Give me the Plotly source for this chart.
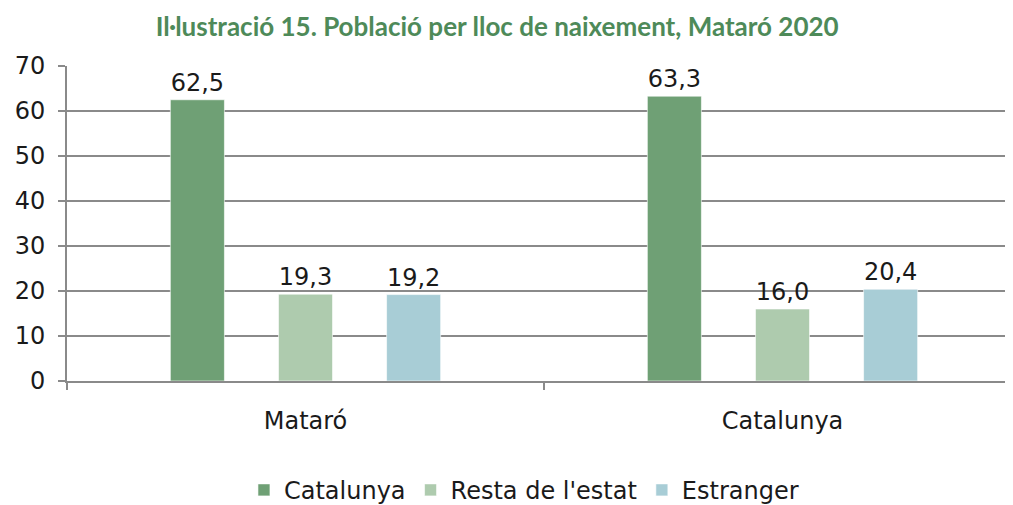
'''
Població per lloc de naixement, Mataró 2020 - grouped bar chart
'''

import plotly.graph_objects as go

categories = ['Mataró', 'Catalunya']
catalunya = [62.5, 63.3]
resta_estat = [19.3, 16.0]
estranger = [19.2, 20.4]
series_names = ['Catalunya', "Resta de l'estat", 'Estranger']
y_ticks = [0, 10, 20, 30, 40, 50, 60, 70]

colors = ['#6fa075', '#aecbae', '#a8cdd6']
font_family = 'DejaVu Sans, sans-serif'


def fmt(v):
    return f'{v:.1f}'.replace('.', ',')


fig = go.Figure()
for name, vals, col in zip(series_names, [catalunya, resta_estat, estranger], colors):
    fig.add_trace(go.Bar(
        x=categories,
        y=vals,
        name=name,
        marker=dict(color=col, line=dict(color='rgba(255,255,255,0.6)', width=1)),
        text=[fmt(v) for v in vals],
        textposition='outside',
        textfont=dict(size=24, color='#1a1a1a', family=font_family),
        cliponaxis=False,
    ))

# the page body adds an 8px offset, margins are compensated for it
fig.update_layout(
    width=1013,
    height=505,
    margin=dict(l=59, r=0, t=58, b=132, autoexpand=False),
    paper_bgcolor='white',
    plot_bgcolor='white',
    barmode='group',
    bargap=0.32,
    bargroupgap=0.5,
    title=dict(
        text='<b>Il·lustració 15. Població per lloc de naixement, Mataró 2020</b>',
        x=0.483, xanchor='center', y=0.962, yanchor='middle',
        font=dict(family='Lato, Open Sans, sans-serif', size=26, color='#4e8a59'),
    ),
    font=dict(family=font_family, size=24, color='#1a1a1a'),
    legend=dict(
        orientation='h', x=0.479, xanchor='center',
        yref='container', y=0.045, yanchor='middle',
        font=dict(size=24, family=font_family),
        itemwidth=30, traceorder='normal',
    ),
    showlegend=True,
)

fig.update_yaxes(
    range=[0, 70],
    tickvals=y_ticks,
    automargin=False,
    showgrid=True,
    gridcolor='#8a8a8a',
    gridwidth=2,
    showline=True,
    linecolor='#8a8a8a',
    linewidth=2,
    ticks='outside',
    ticklen=7,
    tickwidth=2,
    tickcolor='#8a8a8a',
    zeroline=False,
    ticklabelstandoff=8,
    tickfont=dict(size=24),
)

fig.update_xaxes(
    type='category',
    automargin=False,
    showline=True,
    linecolor='#8a8a8a',
    linewidth=2,
    ticks='outside',
    tickson='boundaries',
    ticklen=7,
    tickwidth=2,
    tickcolor='#8a8a8a',
    showgrid=False,
    ticklabelstandoff=17,
    tickfont=dict(size=24),
)

fig.write_html('out.html')
